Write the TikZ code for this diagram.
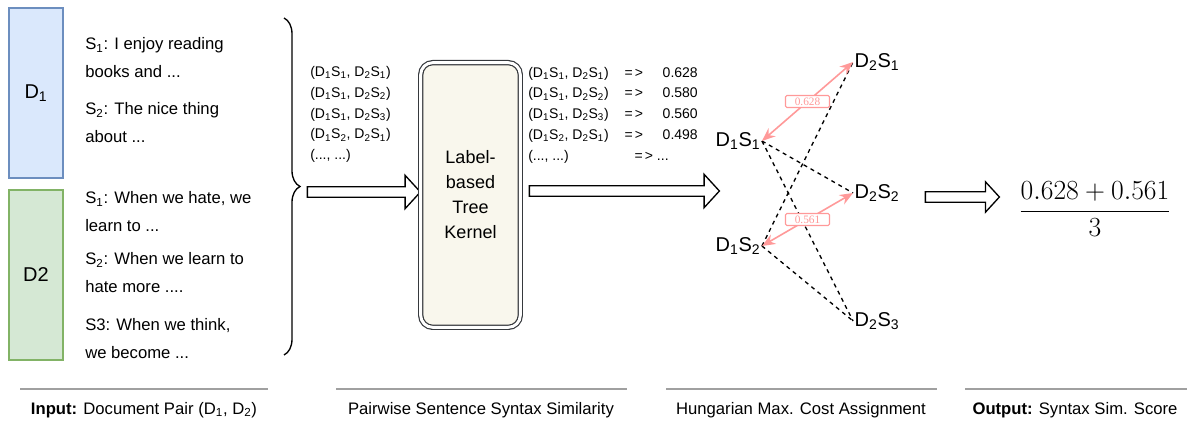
\documentclass[tikz,border=0pt]{standalone}
\usepackage{fontspec}
\setmainfont{Liberation Sans}
\newfontfamily\numfont{Liberation Serif}
\usetikzlibrary{arrows.meta,shapes.arrows,decorations.pathreplacing}

\definecolor{doconefill}{HTML}{DAE8FC}
\definecolor{doconedraw}{HTML}{6C8EBF}
\definecolor{doctwofill}{HTML}{D5E8D4}
\definecolor{doctwodraw}{HTML}{82B366}
\definecolor{kernelfill}{HTML}{F9F7ED}
\definecolor{kerneldraw}{HTML}{36393D}
\definecolor{pinkline}{HTML}{FF9999}
\definecolor{barline}{HTML}{A0A0A0}

\newcommand{\DS}[2]{D\textsubscript{#1}S\textsubscript{#2}}

\begin{document}
\begin{tikzpicture}[x=0.75pt,y=-0.75pt,
        docbox/.style={draw,line width=0.9pt,minimum width=40.5pt,minimum height=127.5pt,
            font=\fontsize{15}{18}\selectfont},
        sent/.style={anchor=west,align=left,inner sep=0pt,font=\fontsize{12.5}{21}\selectfont},
        pairs/.style={anchor=west,align=left,inner sep=0pt,font=\fontsize{10.5}{15.6}\selectfont},
        fatarrow/.style={single arrow,draw,line width=1pt,fill=white,inner sep=3.4pt,
            single arrow head extend=8.6pt,single arrow tip angle=95},
        kernel/.style={draw=kerneldraw,line width=0.9pt,double=white,double distance=2.2pt,
            fill=kernelfill,rounded corners=9pt,minimum width=74.7pt,minimum height=198.5pt,
            align=center,font=\fontsize{13.5}{18.75}\selectfont},
        sn/.style={inner sep=1pt,font=\fontsize{15}{18}\selectfont},
        match/.style={draw=pinkline,line width=1.2pt,
            {Stealth[length=10pt,width=8pt]}-{Stealth[length=10pt,width=8pt]}},
        score/.style={draw=pinkline,fill=white,text=pinkline,rounded corners=1pt,line width=0.8pt,
            minimum width=33pt,minimum height=9pt,inner sep=0pt,font=\numfont\fontsize{8.5}{9}\selectfont},
        bar/.style={draw=barline,line width=1.5pt},
        caption/.style={font=\fontsize{12.5}{15}\selectfont}]
    \useasboundingbox (0,0) rectangle (1187,423);

    % input documents
    \node[docbox,fill=doconefill,draw=doconedraw] (d1) at (36,93) {D\textsubscript{1}};
    \node[docbox,fill=doctwofill,draw=doctwodraw] (d2) at (36,275) {D2};

    \node[sent] (d1s1) at (85,58) {S\textsubscript{1}: I enjoy reading\\books and ...};
    \node[sent] (d1s2) at (85,122.5) {S\textsubscript{2}: The nice thing\\about ...};
    \node[sent] (d2s1) at (85,212) {S\textsubscript{1}: When we hate, we\\learn to ...};
    \node[sent] (d2s2) at (85,272.5) {S\textsubscript{2}: When we learn to\\hate more ....};
    \node[sent] (d2s3) at (85,338.5) {S3: When we think,\\we become ...};

    \draw[decorate,decoration={brace,amplitude=12pt},line width=1pt] (284,18) -- (284,355);

    % sentence pairs
    \node[pairs] (pairlist) at (310,114.5) {(\DS11, \DS21)\\(\DS11, \DS22)\\(\DS11, \DS23)\\
        (\DS12, \DS21)\\(..., ...)};
    \node[fatarrow,minimum height=84.75pt] (arrin) at (361.5,192) {};

    \node[kernel] (kern) at (470.5,195) {Label-\\based\\Tree\\Kernel};

    \node[pairs] (scorelist) at (528,114.5) {\fontsize{10.5}{15.6}\selectfont
        \begin{tabular}{@{}l@{\hspace{12pt}}l@{}}
        (\DS11, \DS21) & \makebox[28.5pt][l]{=\kern1.5pt>}0.628\\
        (\DS11, \DS22) & \makebox[28.5pt][l]{=\kern1.5pt>}0.580\\
        (\DS11, \DS23) & \makebox[28.5pt][l]{=\kern1.5pt>}0.560\\
        (\DS12, \DS21) & \makebox[28.5pt][l]{=\kern1.5pt>}0.498\\
        (..., ...) & \hspace{7.5pt}=\kern1.5pt> ...
        \end{tabular}};
    \node[fatarrow,minimum height=142.5pt] (arrmid) at (622,191) {};

    % bipartite matching
    \node[sn] (a1) at (738,141) {\DS11};
    \node[sn] (a2) at (738,246) {\DS12};
    \node[sn] (b1) at (877,62) {\DS21};
    \node[sn] (b2) at (877,193) {\DS22};
    \node[sn] (b3) at (877,321) {\DS23};

    \draw[dashed,line width=1pt] (a1.east) -- (b2.west);
    \draw[dashed,line width=1pt] (a1.east) -- (b3.west);
    \draw[dashed,line width=1pt] (a2.east) -- (b1.west);
    \draw[dashed,line width=1pt] (a2.east) -- (b3.west);

    \draw[match] (a1.east) -- node[score] (m1) {0.628} (b1.west);
    \draw[match] (a2.east) -- node[score] (m2) {0.561} (b2.west);

    % output score
    \node[fatarrow,minimum height=55.5pt,single arrow head extend=7.5pt] (arrout) at (960,197) {};
    \node (frac) at (1095,209) {\fontsize{21.3}{26}\selectfont$\displaystyle\frac{0.628+0.561}{3}$};

    % stage captions
    \draw[bar] (20,389) -- (268,389);
    \draw[bar] (336,389) -- (627,389);
    \draw[bar] (666,389) -- (937,389);
    \draw[bar] (965,389) -- (1187,389);
    \node[caption] (capin) at (144,410) {\textbf{Input:} Document Pair (D\textsubscript{1}, D\textsubscript{2})};
    \node[caption] (cappair) at (481,410) {Pairwise Sentence Syntax Similarity};
    \node[caption] (caphung) at (801,410) {Hungarian Max. Cost Assignment};
    \node[caption] (capout) at (1075,410) {\textbf{Output:} Syntax Sim. Score};
\end{tikzpicture}
\end{document}
